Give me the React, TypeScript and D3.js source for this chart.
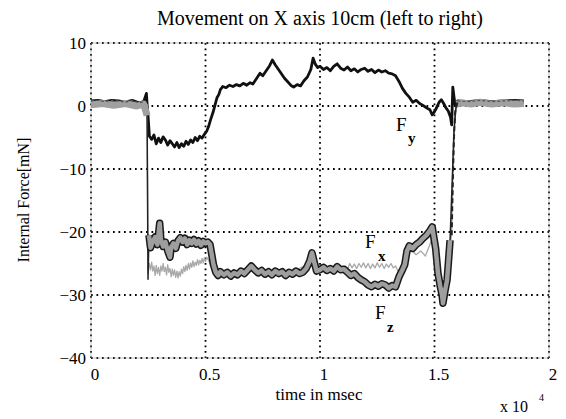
import React from "react";
import * as d3 from "d3";

const xTicks = [0, 0.5, 1, 1.5, 2];
const xTickLabels = ["0", "0.5", "1", "1.5", "2"];
const yTicks = [10, 0, -10, -20, -30, -40];
const yTickLabels = ["10", "0", "-10", "-20", "-30", "-40"];

const fyData: [number, number][] = [
  [0, 0.8], [0.03, 0.9], [0.06, 0.7], [0.09, 0.9], [0.12, 0.8], [0.15, 0.6], [0.18, 0.9], [0.21, 0.5], [0.23, 0.7], [0.242, 2.0], [0.245, 0.3],
  [0.25, -2], [0.255, -4.8], [0.265, -5.3], [0.275, -4.6], [0.285, -6], [0.295, -5.1], [0.305, -5.8], [0.315, -4.9], [0.325, -5.4],
  [0.335, -6.2], [0.345, -5.5], [0.355, -6.0], [0.365, -6.5], [0.375, -5.8], [0.385, -6.6], [0.395, -6.0], [0.405, -6.4], [0.415, -5.6],
  [0.425, -6.1], [0.435, -5.4], [0.445, -5.8], [0.455, -5.0], [0.465, -5.5], [0.475, -4.8], [0.485, -5.1], [0.495, -4.5], [0.505, -4.0],
  [0.513, -3.3], [0.522, -2.2], [0.533, -1.0], [0.542, 0.2], [0.55, 1.3], [0.558, 1.8], [0.565, 2.6], [0.575, 3.1], [0.59, 2.9],
  [0.605, 3.3], [0.62, 3.1], [0.635, 3.4], [0.65, 3.2], [0.665, 3.6], [0.68, 3.3], [0.695, 3.7], [0.707, 3.5], [0.72, 4.2], [0.738, 5.2],
  [0.75, 4.8], [0.765, 5.6], [0.78, 6.4], [0.792, 7.3], [0.805, 6.5], [0.815, 6.0], [0.83, 5.2], [0.845, 4.4], [0.86, 3.8], [0.875, 3.2],
  [0.885, 3.0], [0.9, 3.4], [0.915, 3.2], [0.93, 4.0], [0.945, 4.6], [0.96, 5.8], [0.97, 7.6], [0.98, 6.6], [0.99, 6.1], [1.0, 6.3],
  [1.015, 5.8], [1.03, 6.1], [1.045, 5.6], [1.06, 6.3], [1.075, 6.7], [1.09, 6.0], [1.105, 5.7], [1.12, 6.2], [1.135, 5.6], [1.15, 5.9],
  [1.165, 5.4], [1.18, 5.8], [1.195, 6.0], [1.21, 5.5], [1.225, 5.8], [1.24, 5.3], [1.255, 5.7], [1.27, 5.4], [1.285, 5.6], [1.3, 5.2],
  [1.315, 5.1], [1.33, 4.8], [1.345, 3.9], [1.36, 2.8], [1.375, 2.0], [1.39, 1.4], [1.405, 0.6], [1.42, 0.9], [1.435, 0.4], [1.45, 0.1],
  [1.465, -0.3], [1.48, -0.6], [1.49, -1.4], [1.5, -0.9], [1.51, -0.2], [1.52, 0.6], [1.53, 1.0], [1.54, 0.4], [1.55, -0.3], [1.56, -0.8],
  [1.57, -1.8], [1.575, -3.0], [1.58, 3.0], [1.585, 1.5], [1.59, 0.2], [1.6, 0.8], [1.65, 0.7], [1.7, 0.9], [1.75, 0.7], [1.8, 0.8],
  [1.85, 0.9], [1.89, 0.8],
];

const fxData: [number, number][] = [
  [0, 0.5], [0.1, 0.6], [0.2, 0.4], [0.245, 0.2], [0.249, -26.5], [0.255, -25.0], [0.26, -26.0], [0.265, -24.8], [0.27, -26.2],
  [0.275, -25.4], [0.28, -26.9], [0.285, -25.3], [0.29, -26.6], [0.295, -25.6], [0.3, -26.9], [0.305, -25.4], [0.31, -26.2],
  [0.315, -25.0], [0.32, -26.3], [0.325, -25.6], [0.33, -26.8], [0.335, -25.2], [0.34, -26.4], [0.345, -25.8], [0.35, -27.1],
  [0.355, -25.9], [0.36, -26.9], [0.365, -26.0], [0.37, -27.2], [0.375, -26.2], [0.38, -27.3], [0.385, -26.3], [0.39, -27.0],
  [0.395, -25.9], [0.4, -26.6], [0.405, -25.5], [0.41, -26.3], [0.415, -25.3], [0.42, -26.1], [0.425, -25.0], [0.43, -25.9],
  [0.435, -24.9], [0.44, -25.6], [0.445, -24.6], [0.45, -25.5], [0.455, -24.8], [0.46, -25.3], [0.465, -24.4], [0.47, -25.2],
  [0.475, -24.5], [0.48, -25.0], [0.485, -24.2], [0.49, -24.9], [0.495, -24.1], [0.5, -24.7], [0.505, -24.0], [0.515, -24.6],
  [0.525, -25.5], [0.54, -26.2], [0.56, -26.5], [0.6, -26.4], [0.65, -26.1], [0.7, -25.6], [0.75, -26.0], [0.8, -26.1], [0.85, -26.5],
  [0.9, -26.0], [0.95, -25.0], [1.0, -25.8], [1.05, -25.6], [1.1, -25.9], [1.11, -25.4], [1.12, -25.9], [1.13, -25.0], [1.14, -25.7],
  [1.15, -25.1], [1.16, -25.8], [1.17, -25.0], [1.18, -25.6], [1.19, -24.9], [1.2, -25.7], [1.21, -25.0], [1.22, -25.8], [1.23, -25.1],
  [1.24, -25.7], [1.25, -24.9], [1.26, -25.6], [1.27, -25.0], [1.28, -25.8], [1.29, -25.1], [1.3, -25.6], [1.31, -25.0], [1.32, -25.7],
  [1.33, -25.4], [1.34, -26.2], [1.36, -25.3], [1.38, -23.5], [1.4, -22.9], [1.42, -23.6], [1.44, -23.0], [1.46, -23.8], [1.48, -22.0],
  [1.49, -20.8], [1.5, -22.5], [1.51, -25.5], [1.52, -28.4], [1.53, -30.5], [1.54, -29.0], [1.55, -26.5], [1.56, -24.0], [1.575, -20.5],
  [1.58, -12], [1.585, -5], [1.59, -1], [1.6, 0.6], [1.7, 0.5], [1.8, 0.6], [1.89, 0.5],
];

const fzData: [number, number][] = [
  [0, 0.2], [0.05, 0.4], [0.1, 0.1], [0.15, 0.4], [0.2, 0.0], [0.23, 0.3], [0.245, -1.5], [0.249, -27.5], [0.253, -20.5], [0.26, -22.5],
  [0.27, -21.5], [0.28, -20.8], [0.29, -22.0], [0.3, -18.6], [0.305, -21.2], [0.315, -22.3], [0.325, -21.6], [0.335, -23.0], [0.345, -24.0],
  [0.35, -22.4], [0.36, -21.8], [0.37, -22.6], [0.38, -21.4], [0.39, -20.9], [0.4, -21.6], [0.41, -21.0], [0.42, -22.0], [0.43, -21.3],
  [0.44, -21.8], [0.45, -21.2], [0.46, -21.9], [0.47, -21.4], [0.48, -22.1], [0.49, -21.5], [0.5, -21.8], [0.51, -21.6], [0.52, -22.0],
  [0.527, -23.5], [0.535, -25.2], [0.545, -26.4], [0.555, -26.9], [0.565, -26.3], [0.58, -26.8], [0.595, -26.4], [0.61, -27.0],
  [0.625, -26.5], [0.64, -26.8], [0.655, -26.2], [0.67, -26.6], [0.685, -26.0], [0.7, -25.4], [0.715, -26.0], [0.73, -26.5],
  [0.745, -26.1], [0.76, -26.7], [0.775, -26.3], [0.79, -26.8], [0.805, -26.2], [0.82, -26.6], [0.835, -26.3], [0.85, -26.9],
  [0.865, -26.4], [0.88, -26.7], [0.895, -26.2], [0.91, -26.6], [0.925, -26.4], [0.94, -25.8], [0.955, -24.6], [0.965, -23.3],
  [0.975, -24.8], [0.985, -26.2], [1.0, -26.0], [1.015, -25.6], [1.03, -26.1], [1.045, -25.8], [1.06, -26.2], [1.075, -25.5],
  [1.09, -26.0], [1.105, -25.9], [1.12, -26.4], [1.135, -26.9], [1.15, -26.6], [1.165, -27.2], [1.18, -27.6], [1.195, -27.9],
  [1.21, -28.4], [1.225, -28.7], [1.24, -28.3], [1.255, -28.6], [1.27, -28.2], [1.285, -28.4], [1.3, -28.9], [1.315, -28.5],
  [1.33, -28.7], [1.345, -27.1], [1.36, -26.0], [1.37, -25.2], [1.38, -23.0], [1.39, -22.2], [1.405, -22.6], [1.42, -22.0],
  [1.435, -21.6], [1.45, -21.0], [1.465, -20.5], [1.48, -19.8], [1.49, -19.2], [1.497, -20.8], [1.505, -22.6], [1.515, -26.5],
  [1.525, -28.6], [1.533, -30.0], [1.537, -31.3], [1.545, -29.5], [1.555, -27.6], [1.568, -21.3], [1.576, -13.3], [1.585, -4.0],
  [1.595, 0.3], [1.62, 0.5], [1.66, 0.3], [1.7, 0.6], [1.75, 0.3], [1.8, 0.5], [1.85, 0.3], [1.89, 0.4],
];

const W = 566;
const H = 419;
const left = 91;
const right = 549;
const top = 43;
const bottom = 358;
const FONT = "'Liberation Serif', 'DejaVu Serif', serif";

export default function App() {
  const x = d3.scaleLinear().domain([0, 2]).range([left, right]);
  const y = d3.scaleLinear().domain([-40, 10]).range([bottom, top]);
  const line = d3.line<[number, number]>().x((d) => x(d[0])).y((d) => y(d[1]));
  const dots = "1.7 3.8";
  const inRange = (a: number, b: number) => (d: [number, number]) => d[0] >= a && d[0] <= b;
  const fzStart = fzData.filter(inRange(0, 0.245));
  const fzMid = fzData.filter(inRange(0.253, 1.57));
  const fzEnd = fzData.filter(inRange(1.595, 2));
  const fyStart = fyData.filter(inRange(0, 0.235));
  const fyEnd = fyData.filter(inRange(1.6, 2));
  const fxRise = fxData.filter(inRange(1.575, 1.6));

  return (
    <svg width={W} height={H} style={{ position: "absolute", left: 0, top: 0, background: "#fff" }}>
      <rect x={0} y={0} width={W} height={H} fill="#fff" />
      {xTicks.map((t) => (
        <line key={"gx" + t} x1={x(t)} x2={x(t)} y1={top} y2={bottom} stroke="#000" strokeWidth={1.8} strokeDasharray={dots} />
      ))}
      {yTicks.map((t) => (
        <line key={"gy" + t} x1={left} x2={right} y1={y(t)} y2={y(t)} stroke="#000" strokeWidth={1.8} strokeDasharray={dots} />
      ))}
      <rect x={left} y={top} width={right - left} height={bottom - top} fill="none" stroke="#888" strokeWidth={0.5} />
      {/* Fy */}
      <path d={line(fyData) || ""} fill="none" stroke="#111" strokeWidth={2.8} strokeLinejoin="round" />
      {/* Fx */}
      <path d={line(fxData) || ""} fill="none" stroke="#a8a8a8" strokeWidth={1.3} strokeLinejoin="round" />
      {/* Fz thin full trace, then band */}
      <path d={line(fzData) || ""} fill="none" stroke="#222" strokeWidth={1.5} strokeLinejoin="round" />
      <path d={line(fzMid) || ""} fill="none" stroke="#1a1a1a" strokeWidth={7.5} strokeLinejoin="round" />
      <path d={line(fzMid) || ""} fill="none" stroke="#9e9e9e" strokeWidth={4.5} strokeLinejoin="round" />
      {/* resting bands */}
      <path d={line(fzStart) || ""} fill="none" stroke="#a0a0a0" strokeWidth={7} strokeLinejoin="round" />
      <path d={line(fzEnd) || ""} fill="none" stroke="#a0a0a0" strokeWidth={7} strokeLinejoin="round" />
      <path d={line(fyStart) || ""} fill="none" stroke="#555" strokeWidth={1.2} strokeDasharray="3 2" />
      <path d={line(fyEnd) || ""} fill="none" stroke="#555" strokeWidth={1.2} strokeDasharray="3 2" />
      <path d={line(fxRise) || ""} fill="none" stroke="#222" strokeWidth={2} strokeDasharray="5 3" />
      {/* tick labels */}
      {yTicks.map((t, i) => (
        <text key={"yl" + t} x={left - 5} y={y(t)} dy="0.36em" textAnchor="end" fontFamily={FONT} fontSize={17} fill="#000">
          {yTickLabels[i].replace("-", "\u2212")}
        </text>
      ))}
      {xTicks.map((t, i) => (
        <text key={"xl" + t} x={x(t) + 4} y={bottom + 22} textAnchor="middle" fontFamily={FONT} fontSize={17} fill="#000">
          {xTickLabels[i]}
        </text>
      ))}
      <text x={320} y={25} textAnchor="middle" fontFamily={FONT} fontSize={20} fill="#000">
        Movement on X axis 10cm (left to right)
      </text>
      <text x={319} y={400} textAnchor="middle" fontFamily={FONT} fontSize={17} fill="#000">
        time in msec
      </text>
      <text x={500} y={412} fontFamily={FONT} fontSize={16} fill="#000">x 10</text>
      <text x={539} y={401} fontFamily={FONT} fontSize={10} fill="#000">4</text>
      <text transform="translate(29,200) rotate(-90)" textAnchor="middle" fontFamily={FONT} fontSize={16} fill="#000">
        Internal Force[mN]
      </text>
      {/* series labels */}
      <text x={396} y={131} fontFamily={FONT} fontSize={19} fill="#000">F</text>
      <text x={408} y={143} fontFamily={FONT} fontSize={15} fontWeight="bold" fill="#000">y</text>
      <text x={365} y={248} fontFamily={FONT} fontSize={19} fill="#000">F</text>
      <text x={378} y={261} fontFamily={FONT} fontSize={15} fontWeight="bold" fill="#000">x</text>
      <text x={375} y={319} fontFamily={FONT} fontSize={19} fill="#000">F</text>
      <text x={387} y={332} fontFamily={FONT} fontSize={15} fontWeight="bold" fill="#000">z</text>
    </svg>
  );
}
